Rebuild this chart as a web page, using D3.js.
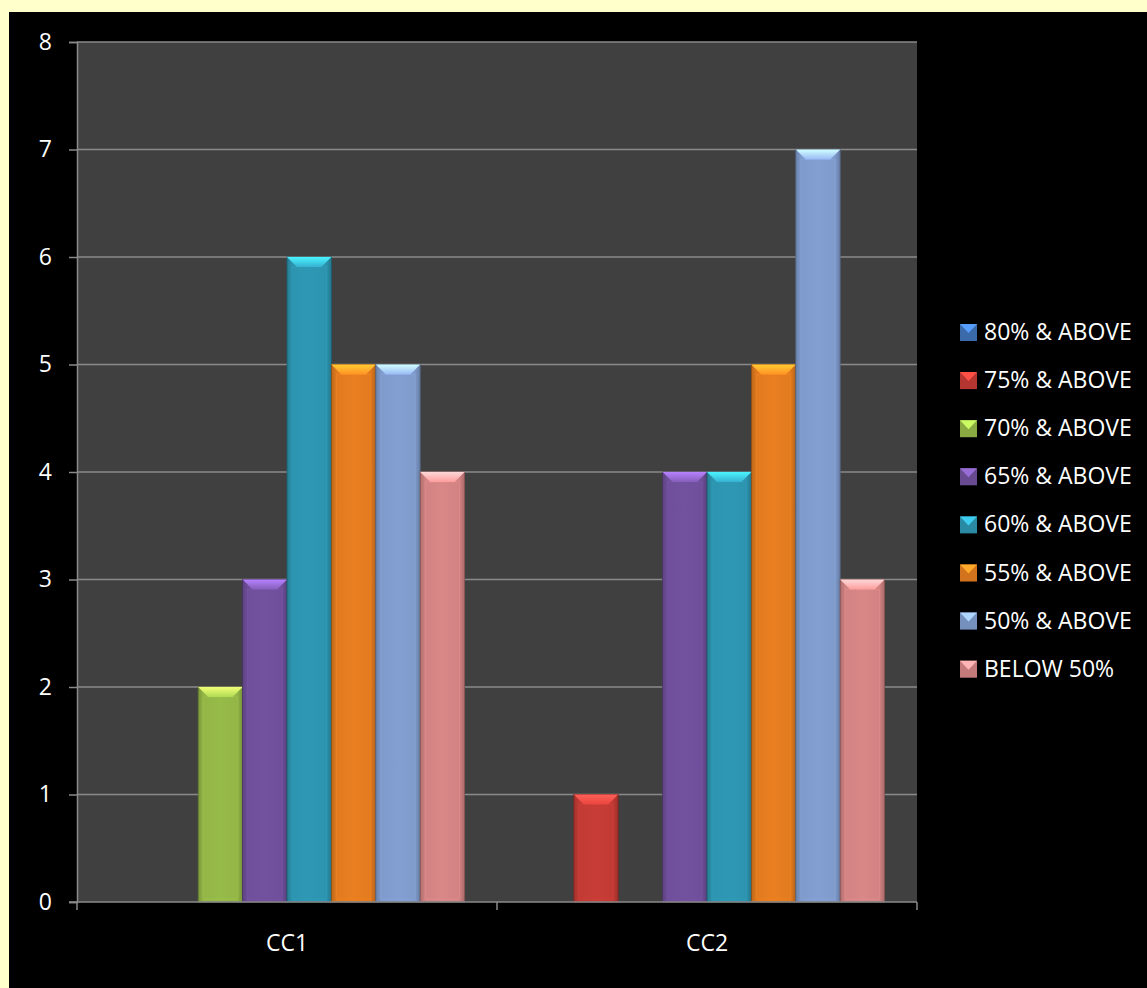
<!DOCTYPE html>
<html>
<head>
<meta charset="utf-8">
<script src="https://cdn.jsdelivr.net/npm/d3@7"></script>
<style>
  html, body { margin: 0; padding: 0; background: #ffffcc; }
  svg { display: block; }
  text { font-family: "Open Sans", "Noto Sans", sans-serif; fill: #ffffff; }
</style>
</head>
<body>
<svg width="1147" height="988"></svg>
<script>
// chart data
var categories = ["CC1", "CC2"];
var seriesNames = ["80% & ABOVE", "75% & ABOVE", "70% & ABOVE", "65% & ABOVE",
                   "60% & ABOVE", "55% & ABOVE", "50% & ABOVE", "BELOW 50%"];
var cc1Values = [0, 0, 2, 3, 6, 5, 5, 4];
var cc2Values = [0, 1, 0, 4, 4, 5, 7, 3];
var yTicks = [0, 1, 2, 3, 4, 5, 6, 7, 8];
var seriesColors = ["#3f72b8", "#c23a34", "#93b647", "#6f4f9b", "#2d94af", "#e27b1f", "#7f9bcc", "#d38383"];

window.onload = main;

function main() {
    var width = 1147, height = 988;
    var svg = d3.select("svg");

    // yellow page + black chart panel
    svg.append("rect").attr("width", width).attr("height", height).attr("fill", "#ffffcc");
    svg.append("rect").attr("x", 9).attr("y", 12)
        .attr("width", width - 9).attr("height", height - 12).attr("fill", "#000");

    var plot = { left: 77, right: 917, top: 42, bottom: 902 };

    var x0 = d3.scaleBand().domain(categories).range([plot.left, plot.right]).padding(0);
    var x1 = d3.scaleBand().domain(seriesNames).range([0, x0.bandwidth()])
        .paddingInner(0).paddingOuter(0.73);
    var y = d3.scaleLinear().domain([0, 8]).range([plot.bottom, plot.top]);
    var color = d3.scaleOrdinal().domain(seriesNames).range(seriesColors);

    // plot area
    svg.append("rect")
        .attr("x", plot.left).attr("y", plot.top)
        .attr("width", plot.right - plot.left).attr("height", plot.bottom - plot.top)
        .attr("fill", "#404040");

    // gridlines
    svg.append("g").selectAll("line")
        .data(yTicks.filter(function (d) { return d > 0; }))
        .enter().append("line")
        .attr("x1", plot.left).attr("x2", plot.right)
        .attr("y1", function (d) { return y(d); })
        .attr("y2", function (d) { return y(d); })
        .attr("stroke", "#8a8a8a").attr("stroke-width", 1.5);

    // gradients per series
    var defs = svg.append("defs");
    seriesNames.forEach(function (s, i) {
        var c = d3.color(color(s));
        var g = defs.append("linearGradient").attr("id", "body" + i)
            .attr("x1", "0").attr("x2", "1").attr("y1", "0").attr("y2", "0");
        g.append("stop").attr("offset", "0").attr("stop-color", c.darker(0.5));
        g.append("stop").attr("offset", "0.12").attr("stop-color", c);
        g.append("stop").attr("offset", "0.5").attr("stop-color", c.brighter(0.08));
        g.append("stop").attr("offset", "0.88").attr("stop-color", c);
        g.append("stop").attr("offset", "1").attr("stop-color", c.darker(0.6));
        var t = defs.append("linearGradient").attr("id", "top" + i)
            .attr("x1", "0").attr("x2", "0").attr("y1", "0").attr("y2", "1");
        t.append("stop").attr("offset", "0").attr("stop-color", c.brighter(1.4));
        t.append("stop").attr("offset", "1").attr("stop-color", c.brighter(0.5));
    });

    var rows = categories.map(function (c, ci) {
        var vals = ci === 0 ? cc1Values : cc2Values;
        return { cat: c, values: seriesNames.map(function (s, si) {
            return { cat: c, name: s, idx: si, value: vals[si] };
        }) };
    });

    var bev = 10;
    var groups = svg.append("g").selectAll("g")
        .data(rows).enter().append("g")
        .attr("transform", function (d) { return "translate(" + x0(d.cat) + ",0)"; });

    var bars = groups.selectAll("g")
        .data(function (d) { return d.values.filter(function (v) { return v.value > 0; }); })
        .enter().append("g");

    bars.append("rect")
        .attr("x", function (d) { return x1(d.name); })
        .attr("y", function (d) { return y(d.value); })
        .attr("width", x1.bandwidth())
        .attr("height", function (d) { return y(0) - y(d.value); })
        .attr("fill", function (d) { return "url(#body" + d.idx + ")"; })
        .attr("stroke", function (d) { return d3.color(color(d.name)).darker(1.2); })
        .attr("stroke-width", 0.8);

    // inner bevel edges
    bars.append("rect")
        .attr("x", function (d) { return x1(d.name) + 5; })
        .attr("y", function (d) { return y(d.value) + bev; })
        .attr("width", x1.bandwidth() - 10)
        .attr("height", function (d) { return y(0) - y(d.value) - bev - 3; })
        .attr("fill", "none")
        .attr("stroke", function (d) { return d3.color(color(d.name)).brighter(0.25); })
        .attr("stroke-opacity", 0.5)
        .attr("stroke-width", 1);

    // top bevel
    bars.append("path")
        .attr("d", function (d) {
            var xa = x1(d.name), xb = xa + x1.bandwidth(), yt = y(d.value);
            return "M" + xa + "," + yt + "L" + xb + "," + yt +
                "L" + (xb - bev) + "," + (yt + bev) + "L" + (xa + bev) + "," + (yt + bev) + "Z";
        })
        .attr("fill", function (d) { return "url(#top" + d.idx + ")"; });

    // y axis
    var yAxis = svg.append("g")
        .attr("transform", "translate(" + plot.left + ",0)")
        .call(d3.axisLeft(y).tickValues(yTicks).tickSize(8).tickPadding(17));
    yAxis.select(".domain").attr("stroke", "#8a8a8a").attr("stroke-width", 1.5);
    yAxis.selectAll(".tick line").attr("stroke", "#8a8a8a").attr("stroke-width", 1.5);
    yAxis.selectAll("text").attr("fill", "#fff").style("font-size", "23px")
        .style("font-family", "'Open Sans', sans-serif");

    // x axis line and boundary ticks
    var xg = svg.append("g");
    xg.append("line")
        .attr("x1", plot.left - 8).attr("x2", plot.right)
        .attr("y1", y(0)).attr("y2", y(0))
        .attr("stroke", "#8a8a8a").attr("stroke-width", 1.5);
    var bounds = categories.map(function (c) { return x0(c); }).concat([x0.range()[1]]);
    xg.selectAll(".xt").data(bounds).enter().append("line")
        .attr("class", "xt")
        .attr("x1", function (d) { return d; }).attr("x2", function (d) { return d; })
        .attr("y1", y(0)).attr("y2", y(0) + 8)
        .attr("stroke", "#8a8a8a").attr("stroke-width", 1.5);
    xg.selectAll(".xl").data(categories).enter().append("text")
        .attr("class", "xl")
        .attr("x", function (d) { return x0(d) + x0.bandwidth() / 2; })
        .attr("y", 951)
        .attr("text-anchor", "middle")
        .style("font-size", "23px")
        .text(function (d) { return d; });

    // legend
    var legend = svg.append("g").attr("transform", "translate(960,332)");
    var items = legend.selectAll("g").data(seriesNames).enter().append("g")
        .attr("transform", function (d, i) { return "translate(0," + (i * 48.1) + ")"; });
    items.append("rect")
        .attr("x", 0).attr("y", -8).attr("width", 17).attr("height", 17)
        .attr("fill", function (d) { return d3.color(color(d)).darker(0.2); });
    items.append("path")
        .attr("d", "M0,-8L17,-8L8.5,1Z")
        .attr("fill", function (d) { return d3.color(color(d)).brighter(0.9); });
    items.append("text")
        .attr("x", 24).attr("y", 0).attr("dy", "0.35em")
        .style("font-size", "23px")
        .text(function (d) { return d; });
}
</script>
</body>
</html>
